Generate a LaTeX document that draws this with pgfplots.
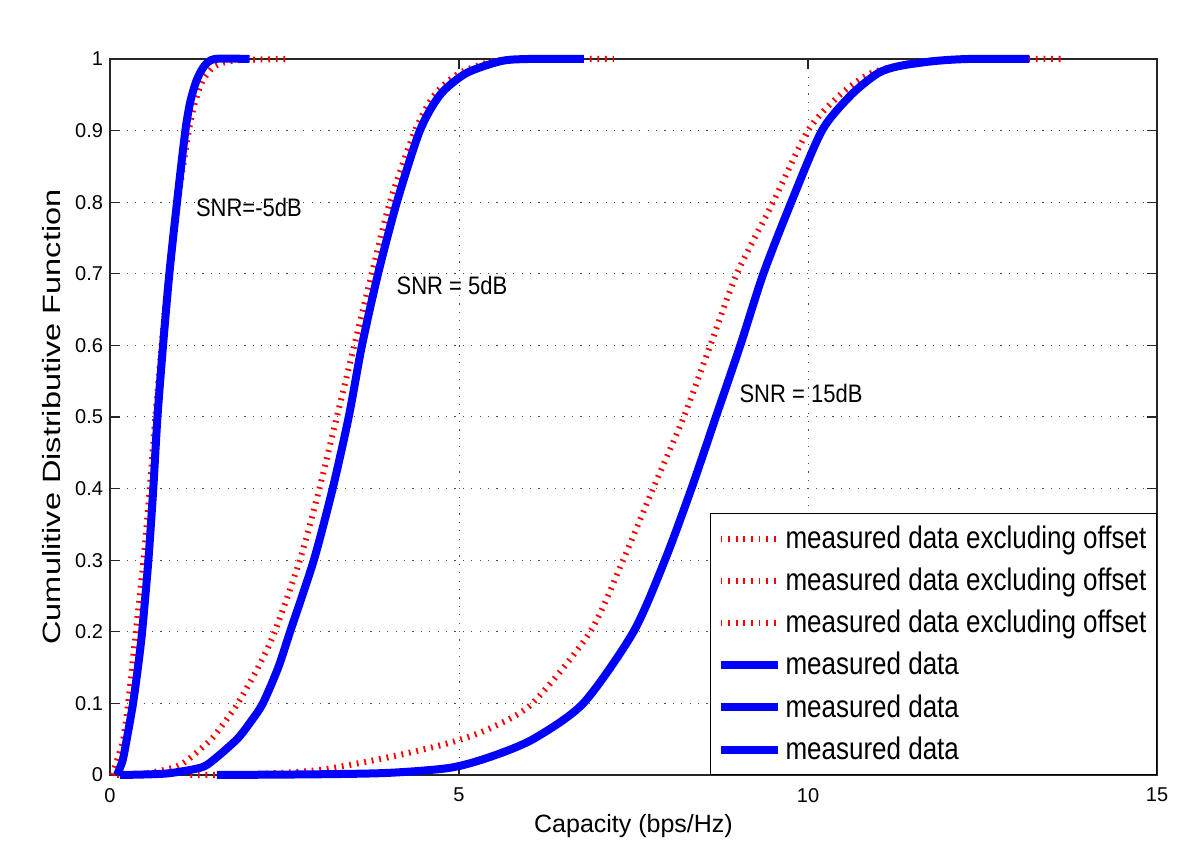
\documentclass[border=0pt]{standalone}
\usepackage{fontspec}
\setmainfont{Liberation Sans}
\usepackage{pgfplots}
\pgfplotsset{compat=1.18}

\begin{document}
\begin{tikzpicture}
\begin{axis}[
    scale only axis,
    width=523.5pt, height=358pt,
    xmin=0, xmax=15, ymin=0, ymax=1,
    xtick={0,5,10,15},
    ytick={0,0.1,0.2,0.3,0.4,0.5,0.6,0.7,0.8,0.9,1},
    /pgf/number format/assume math mode=true,
    tick label style={font=\fontsize{10}{12}\selectfont},
    xticklabel style={yshift=-3pt},
    tick align=inside, major tick length=5pt,
    axis line style={line width=0.7pt, black!85},
    every tick/.style={black!85, line width=0.6pt},
    grid=major,
    major grid style={black!70, line width=0.5pt, dash pattern=on 0.6pt off 3.6pt},
    xlabel={Capacity (bps/Hz)},
    ylabel={\scalebox{1.3}[1]{Cumulitive Distributive Function}},
    label style={font=\fontsize{12.5}{14}\selectfont},
    xlabel style={at={(axis description cs:0.5,-0.0712)}, anchor=center},
    ylabel style={at={(axis description cs:-0.0554,0.5)}, anchor=center},
    clip=false,
    legend style={at={(1,0)}, anchor=south east, draw=black, line width=0.6pt,
        fill=white, font=\fontsize{13}{15}\selectfont, cells={anchor=west},
        row sep=4.3pt, inner xsep=3pt, inner ysep=4pt},
    legend image code/.code={\draw[#1] (0pt,0pt) -- (28.5pt,0pt);},
    offsetline/.style={red, line width=3pt, dash pattern=on 0.9pt off 2.9pt,
        smooth, tension=0.45},
    measline/.style={blue, line width=4pt, line join=round, smooth, tension=0.45},
]

% measured data excluding offset
\addplot[offsetline] coordinates {
    (0.03,0) (0.10,0.02) (0.19,0.05) (0.26,0.10) (0.37,0.20) (0.48,0.30)
    (0.57,0.40) (0.65,0.50) (0.74,0.60) (0.84,0.70) (0.97,0.80) (1.13,0.90)
    (1.22,0.94) (1.33,0.97) (1.50,0.99) (1.80,0.998) (2.54,1.0)
};
\addlegendentry{\scalebox{1}[1.2]{measured data excluding offset}}
\addplot[offsetline] coordinates {
    (0.10,0) (0.50,0.002) (0.90,0.01) (1.10,0.02) (1.45,0.05) (1.65,0.075)
    (1.83,0.10) (2.12,0.15) (2.36,0.20) (2.72,0.30) (3.00,0.40) (3.25,0.50)
    (3.50,0.60) (3.75,0.70) (4.01,0.80) (4.37,0.90) (4.65,0.95) (5.00,0.98)
    (5.50,0.997) (6.00,1.0) (7.22,1.0)
};
\addlegendentry{\scalebox{1}[1.2]{measured data excluding offset}}
\addplot[offsetline] coordinates {
    (1.15,0) (2.00,0.001) (3.00,0.007) (4.00,0.025) (4.87,0.045) (5.44,0.065)
    (6.05,0.10) (6.88,0.20) (7.35,0.30) (7.78,0.40) (8.22,0.50) (8.60,0.60)
    (8.98,0.70) (9.50,0.80) (10.00,0.90) (10.46,0.95) (10.90,0.98)
    (11.50,0.995) (12.20,1.0) (13.65,1.0)
};
\addlegendentry{\scalebox{1}[1.2]{measured data excluding offset}}

% measured data
\addplot[measline] coordinates {
    (0.10,0) (0.18,0.02) (0.24,0.05) (0.33,0.10) (0.40,0.15) (0.46,0.20)
    (0.55,0.30) (0.62,0.40) (0.68,0.50) (0.76,0.60) (0.85,0.70) (0.96,0.80)
    (1.08,0.90) (1.15,0.94) (1.24,0.97) (1.35,0.99) (1.50,1.0) (2.00,1.0)
};
\addlegendentry{\scalebox{1}[1.2]{measured data}}
\addplot[measline] coordinates {
    (0.14,0) (0.80,0.002) (1.29,0.01) (1.47,0.02) (1.82,0.05) (2.02,0.075)
    (2.19,0.10) (2.41,0.15) (2.58,0.20) (2.92,0.30) (3.19,0.40) (3.42,0.50)
    (3.61,0.60) (3.84,0.70) (4.11,0.80) (4.44,0.90) (4.73,0.95) (5.10,0.98)
    (5.60,0.997) (6.00,1.0) (6.79,1.0)
};
\addlegendentry{\scalebox{1}[1.2]{measured data}}
\addplot[measline] coordinates {
    (1.53,0) (3.00,0.001) (4.00,0.003) (4.87,0.01) (5.44,0.025) (6.06,0.05)
    (6.78,0.10) (7.50,0.20) (7.95,0.30) (8.33,0.40) (8.68,0.50) (9.03,0.60)
    (9.36,0.70) (9.76,0.80) (10.20,0.90) (10.62,0.95) (11.00,0.98)
    (11.30,0.99) (11.80,0.997) (12.30,1.0) (13.17,1.0)
};
\addlegendentry{\scalebox{1}[1.2]{measured data}}

\node[font=\fontsize{11}{13}\selectfont] at (axis cs:1.99,0.793) {\scalebox{1}[1.15]{SNR=-5dB}};
\node[font=\fontsize{11}{13}\selectfont] at (axis cs:4.90,0.684) {\scalebox{1}[1.15]{SNR = 5dB}};
\node[font=\fontsize{11}{13}\selectfont] at (axis cs:9.90,0.533) {\scalebox{1}[1.15]{SNR = 15dB}};
\end{axis}
\path ([shift={(-55pt,-45.5pt)}]current axis.south west) rectangle
      ([shift={(21.5pt,29.5pt)}]current axis.north east);
\end{tikzpicture}
\end{document}
